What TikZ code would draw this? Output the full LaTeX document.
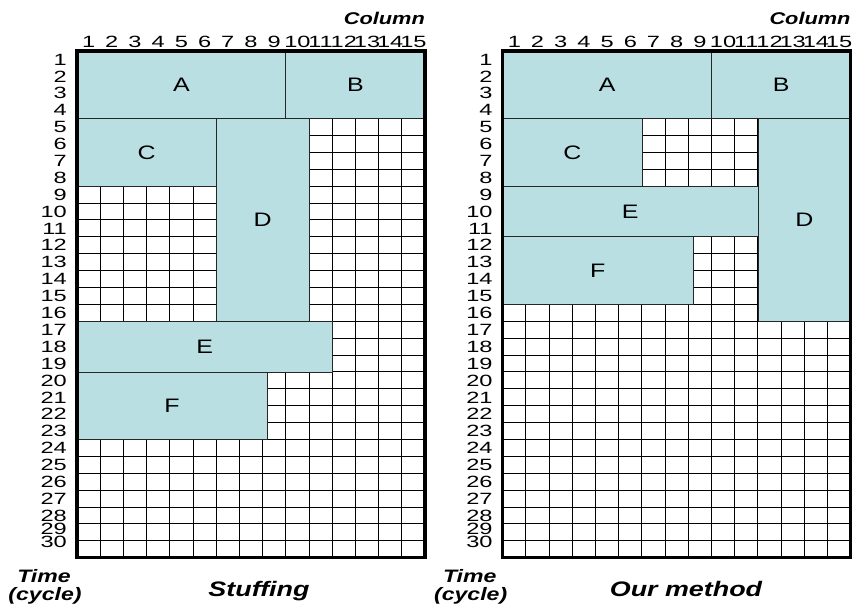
\documentclass[tikz,border=0pt]{standalone}
\usepackage{fontspec}
\setmainfont{Liberation Sans}[FakeStretch=1.28]
\definecolor{boxfill}{RGB}{185,223,227}
\def\cw{23.2}
\def\rh{16.89}
\def\T{51}
\tikzset{
  gridl/.style={line width=1pt, draw=black},
  frameline/.style={line width=3.2pt, draw=black},
  blk/.style={draw=black!85, line width=0.8pt, fill=boxfill, inner sep=0pt, outer sep=0pt,
    font=\fontsize{19.5}{20}\selectfont, anchor=north west},
  collab/.style={font=\fontsize{16.3}{16}\selectfont, anchor=base, inner sep=0pt},
  rowlab/.style={font=\fontsize{16.3}{16}\selectfont, anchor=base east, inner sep=0pt},
  axlab/.style={font=\fontsize{17}{17}\selectfont\bfseries\itshape, inner sep=0pt},
  timelab/.style={font=\fontsize{18}{18}\selectfont\bfseries\itshape, anchor=base, inner sep=0pt},
  titlelab/.style={font=\fontsize{21}{21}\selectfont\bfseries\itshape, anchor=base, inner sep=0pt},
}
\newcommand\wdig[1]{\scalebox{1.13}[1]{#1}}
% #1 left x, #2 prefix, #3 name, #4 col0, #5 row0, #6 col1, #7 row1, #8 label
\newcommand\myblk[8]{%
  \node[blk, minimum width={(#6-#4)*\cw pt}, minimum height={(#7-#5)*\rh pt}]
    (#2#3) at ({#1+#4*\cw},{\T+#5*\rh}) {#8};%
}
\newcommand\mygrid[2]{%
  \foreach \c in {1,...,14}{\draw[gridl] ({#1+\c*\cw},\T) -- ({#1+\c*\cw},{\T+30*\rh});}
  \foreach \r in {1,...,29}{\draw[gridl] (#1,{\T+\r*\rh}) -- ({#1+15*\cw},{\T+\r*\rh});}
  \foreach \c in {1,...,15}{\node[collab] (#2c\c) at ({#1+(\c-0.5)*\cw},47) {\wdig{\c}};}
  \foreach \r in {1,...,30}{%
    \ifnum\r=29 \def\yy{528.3}\else\ifnum\r=30 \def\yy{541.6}\else
      \pgfmathsetmacro\yy{\T+(\r-0.5)*\rh}\fi\fi
    \node[rowlab] (#2r\r) at ({#1-10},{\yy+5.75}) {\wdig{\r}};}
  \node[axlab, anchor=base east] (#2column) at ({#1+15*\cw},24) {Column};
  \node[timelab] (#2time) at ({#1-33},582) {Time};
  \node[timelab] (#2cycle) at ({#1-32},600) {(cycle)};
}
\newcommand\myframe[1]{%
  \draw[frameline] (#1,\T) rectangle ({#1+15*\cw},{\T+30*\rh});
}
\begin{document}
\begin{tikzpicture}[x=1pt,y=-1pt]
\useasboundingbox (0,0) rectangle (854,608);
% ---------- left panel: Stuffing ----------
\def\LA{77}
\mygrid{\LA}{l}
\myblk{\LA}{l}{A}{0}{0}{9}{4}{A}
\myblk{\LA}{l}{B}{9}{0}{15}{4}{B}
\myblk{\LA}{l}{C}{0}{4}{6}{8}{C}
\myblk{\LA}{l}{D}{6}{4}{10}{16}{D}
\myblk{\LA}{l}{E}{0}{16}{11}{19}{E}
\myblk{\LA}{l}{F}{0}{19}{8.2}{23}{F}
\myframe{\LA}
\node[titlelab] (ltitle) at (259,596) {Stuffing};
% ---------- right panel: Our method ----------
\def\LB{502.7}
\mygrid{\LB}{r}
\myblk{\LB}{r}{A}{0}{0}{9}{4}{A}
\myblk{\LB}{r}{B}{9}{0}{15}{4}{B}
\myblk{\LB}{r}{C}{0}{4}{6}{8}{C}
\myblk{\LB}{r}{E}{0}{8}{11}{11}{E}
\myblk{\LB}{r}{F}{0}{11}{8.2}{15}{F}
\myblk{\LB}{r}{D}{11}{4}{15}{16}{D}
\myframe{\LB}
\node[titlelab] (rtitle) at (686,596) {Our method};
\end{tikzpicture}
\end{document}
